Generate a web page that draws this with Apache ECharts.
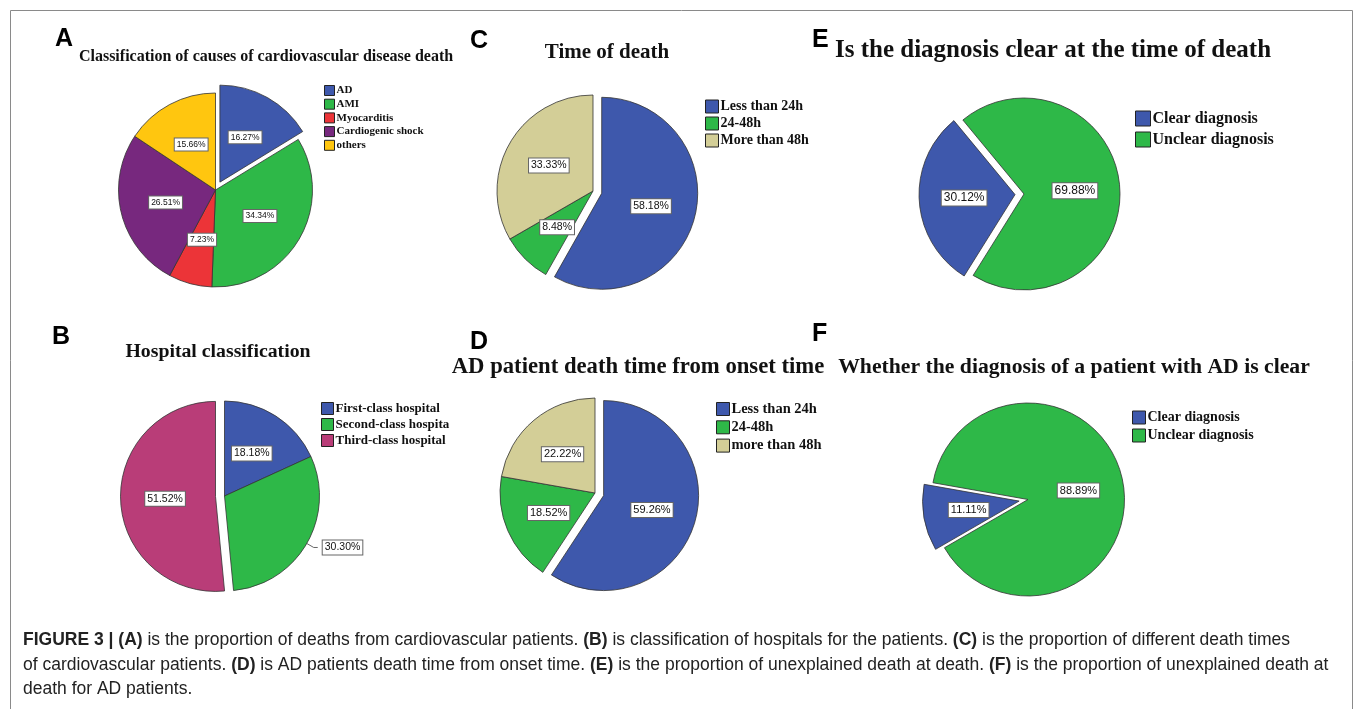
<!DOCTYPE html>
<html>
<head>
<meta charset="utf-8">
<script src="https://cdn.jsdelivr.net/npm/echarts@6/dist/echarts.min.js"></script>
<style>
html, body { margin: 0; padding: 0; background: #fff; }
#main { width: 1355px; height: 709px; }
</style>
</head>
<body>
<div id="main"></div>
<script>
// A - causes of death
var causeNames = ['AD', 'AMI', 'Myocarditis', 'Cardiogenic shock', 'others'];
var causeShares = [16.27, 34.34, 7.23, 26.51, 15.66];
// B - hospital class
var hospitalNames = ['First-class hospital', 'Second-class hospita', 'Third-class hospital'];
var hospitalShares = [18.18, 30.30, 51.52];
// C - time of death
var deathTimeNames = ['Less than 24h', '24-48h', 'More than 48h'];
var deathTimeShares = [58.18, 8.48, 33.33];
// D - AD death time from onset
var adTimeNames = ['Less than 24h', '24-48h', 'more than 48h'];
var adTimeShares = [59.26, 18.52, 22.22];
// E - diagnosis clear at death
var diagNames = ['Clear diagnosis', 'Unclear diagnosis'];
var diagShares = [30.12, 69.88];
// F - diagnosis clear, AD patients
var adDiagNames = ['Clear diagnosis', 'Unclear diagnosis'];
var adDiagShares = [11.11, 88.89];

var BLUE = '#3E58AC', GREEN = '#2EB848', RED = '#EC3438', PURPLE = '#77287E',
    GOLD = '#FFC60F', TAN = '#D3CE97', MAGENTA = '#B93D78';

var SERIF = '"Liberation Serif", "Times New Roman", serif';
var SANS = '"Liberation Sans", Arial, sans-serif';

function pieSeries(names, values, colors, center, r, startAngle, explode, fontSize) {
  return {
    type: 'pie',
    center: center,
    radius: [0, r],
    startAngle: startAngle,
    clockwise: true,
    selectedMode: 'multiple',
    selectedOffset: 9,
    avoidLabelOverlap: false,
    animation: false,
    emphasis: { disabled: true },
    itemStyle: { borderColor: '#333', borderWidth: 0.8 },
    select: { itemStyle: { borderColor: '#333', borderWidth: 0.8 } },
    label: {
      position: 'inside',
      formatter: function (p) { return p.value.toFixed(2) + '%'; },
      color: '#111',
      fontFamily: SANS,
      fontSize: fontSize,
      backgroundColor: '#fff',
      borderColor: '#666',
      borderWidth: 1,
      padding: [2, 2, 1, 2]
    },
    labelLine: { show: false },
    data: names.map(function (n, i) {
      return { name: n, value: values[i], selected: i === explode, itemStyle: { color: colors[i] } };
    })
  };
}

function legendBox(names, left, top, icon, gap, fontSize) {
  return {
    data: names,
    orient: 'vertical',
    left: left,
    top: top,
    icon: 'rect',
    itemWidth: icon,
    itemHeight: icon,
    itemGap: gap,
    selectedMode: false,
    padding: 0,
    itemStyle: { borderColor: '#222', borderWidth: 1 },
    textStyle: { fontFamily: SERIF, fontWeight: 'bold', fontSize: fontSize, color: '#111', lineHeight: icon, padding: [0, 0, 0, -3] }
  };
}

function heading(text, x, y, size) {
  return {
    text: text, left: x, top: y, textAlign: 'center', textVerticalAlign: 'middle', padding: 0,
    textStyle: { fontFamily: SERIF, fontWeight: 'bold', fontSize: size, color: '#111' }
  };
}

function letter(text, x, y) {
  return {
    text: text, left: x, top: y, padding: 0,
    textStyle: { fontFamily: SANS, fontWeight: 'bold', fontSize: 25, color: '#000' }
  };
}

var sB = pieSeries(hospitalNames, hospitalShares, [BLUE, GREEN, MAGENTA], [224.5, 496], 95, 90, 2, 10.5);
// 30.30% sits outside with a short leader
sB.data[1].label = { position: 'outside' };
sB.data[1].labelLine = { show: true, length: 8, length2: 4, smooth: false, lineStyle: { color: '#666', width: 1 } };

var captionText =
  '{b|FIGURE 3 | (A)} is the proportion of deaths from cardiovascular patients. {b|(B)} is classification of hospitals for the patients. {b|(C)} is the proportion of different death times\n' +
  'of cardiovascular patients. {b|(D)} is AD patients death time from onset time. {b|(E)} is the proportion of unexplained death at death. {b|(F)} is the proportion of unexplained death at\n' +
  'death for AD patients.';

var option = {
  backgroundColor: '#fff',
  animation: false,
  title: [
    letter('A', 55, 27), letter('C', 470, 29), letter('E', 812, 28),
    letter('B', 52, 325), letter('D', 470, 330), letter('F', 812, 322),
    heading('Classification of causes of cardiovascular disease death', 266, 57, 16),
    heading('Time of death', 607, 53, 21),
    heading('Is the diagnosis clear at the time of death', 1053, 51, 25),
    heading('Hospital classification', 218, 352, 19.8),
    heading('AD patient death time from onset time', 638, 367, 22.7),
    heading('Whether the diagnosis of a patient with AD is clear', 1074, 367, 21.7),
    {
      text: captionText, left: 23, top: 628, padding: 0,
      textStyle: {
        fontFamily: SANS, fontSize: 17.5, color: '#222', lineHeight: 24.5, fontWeight: 'normal',
        rich: { b: { fontFamily: SANS, fontSize: 17.5, fontWeight: 'bold', color: '#222', lineHeight: 24.5 } }
      }
    }
  ],
  legend: [
    legendBox(causeNames, 324, 85, 10, 2.7, 11),
    legendBox(deathTimeNames, 705, 99.5, 13, 3, 14),
    legendBox(diagNames, 1135, 110.5, 15, 5, 16),
    legendBox(hospitalNames, 321, 402, 12, 3, 13),
    legendBox(adTimeNames, 716, 401.5, 13, 3.3, 14.5),
    legendBox(adDiagNames, 1132, 410.5, 13, 4, 14)
  ],
  graphic: [{
    type: 'rect',
    shape: { x: 10.5, y: 10.5, width: 1342, height: 720 },
    style: { fill: 'none', stroke: '#8a8a8a', lineWidth: 1 },
    silent: true
  }],
  series: [
    pieSeries(causeNames, causeShares, [BLUE, GREEN, RED, PURPLE, GOLD], [215.5, 190], 97, 90, 0, 8.5),
    pieSeries(deathTimeNames, deathTimeShares, [BLUE, GREEN, TAN], [593, 191], 96, 90, 0, 10.5),
    pieSeries(diagNames, diagShares, [BLUE, GREEN], [1024, 194], 96, 238, 0, 12),
    sB,
    pieSeries(adTimeNames, adTimeShares, [BLUE, GREEN, TAN], [595, 493], 95, 90, 0, 11),
    pieSeries(adDiagNames, adDiagShares, [BLUE, GREEN], [1028, 499.5], 96.5, 210, 0, 11)
  ]
};

var myChart = echarts.init(document.getElementById('main'));
myChart.setOption(option);
</script>
</body>
</html>
